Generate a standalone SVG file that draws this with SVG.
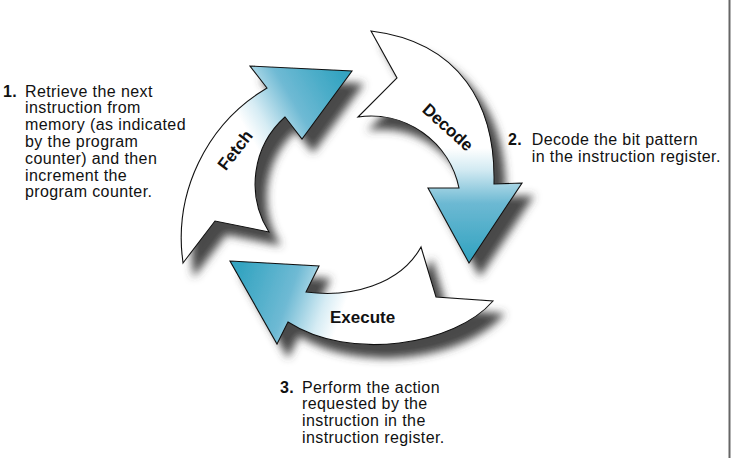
<svg xmlns="http://www.w3.org/2000/svg" width="731" height="458" viewBox="0 0 731 458">
<style>
.step{font-family:"Liberation Sans",Arial,sans-serif;font-size:16px;letter-spacing:0.4px;fill:#111}
.num{font-weight:bold}
.lbl{font-family:"Liberation Sans",Arial,sans-serif;font-size:17px;font-weight:bold;fill:#111}
.arrow{stroke:#111;stroke-width:1.1;stroke-linejoin:miter;filter:url(#shadow)}
</style>
<defs>
<filter id="shadow" x="-20%" y="-20%" width="150%" height="150%">
<feGaussianBlur in="SourceAlpha" stdDeviation="4"/>
<feOffset dx="11" dy="13" result="b"/>
<feFlood flood-color="#3e3e3e" flood-opacity="0.95"/>
<feComposite in2="b" operator="in"/>
<feMerge><feMergeNode/><feMergeNode in="SourceGraphic"/></feMerge>
</filter>
<linearGradient id="gFetch" gradientUnits="userSpaceOnUse" x1="245" y1="128" x2="340" y2="72">
<stop offset="0" stop-color="#ffffff"/>
<stop offset="0.18" stop-color="#d6ecf4"/>
<stop offset="0.5" stop-color="#6fbad4"/>
<stop offset="1" stop-color="#34a4c1"/>
</linearGradient>
<linearGradient id="gDecode" gradientUnits="userSpaceOnUse" x1="0" y1="148" x2="0" y2="258">
<stop offset="0" stop-color="#ffffff"/>
<stop offset="0.2" stop-color="#d2eaf2"/>
<stop offset="0.5" stop-color="#6db9d3"/>
<stop offset="1" stop-color="#34a4c1"/>
</linearGradient>
<linearGradient id="gExecute" gradientUnits="userSpaceOnUse" x1="345" y1="305" x2="240" y2="268">
<stop offset="0" stop-color="#ffffff"/>
<stop offset="0.18" stop-color="#d6ecf4"/>
<stop offset="0.5" stop-color="#6fbad4"/>
<stop offset="1" stop-color="#34a4c1"/>
</linearGradient>
</defs>
<rect width="731" height="458" fill="#ffffff"/>
<line x1="729.5" y1="0" x2="729.5" y2="458" stroke="#666" stroke-width="2"/>

<g id="connectors">
<g id="fetch">
<path class="arrow" fill="url(#gFetch)" d="M183,263 L215,221 L269,232 A90,90 0 0 1 285,117 L302,139 L352,71 L250,66 L267,88 A175,175 0 0 0 183,263 Z"/>
<text class="lbl" text-anchor="middle" transform="translate(235,150) rotate(-52)" x="0" y="6">Fetch</text>
</g>
<g id="decode">
<path class="arrow" fill="url(#gDecode)" d="M371,31 L397,78 L358,117 A90,90 0 0 1 459,188 L428,188 L469,263 L522,183 L494,184 C496,105 460,42 371,31 Z"/>
<text class="lbl" text-anchor="middle" transform="translate(448,127) rotate(42)" x="0" y="6">Decode</text>
</g>
<g id="execute">
<path class="arrow" fill="url(#gExecute)" d="M230,261 L319,266 L306,292 C350,298 400,285 421,247 L436,297 L493,301 C455,345 350,362 288,322 L277,344 Z"/>
<text class="lbl" x="330" y="323">Execute</text>
</g>
</g>

<g id="step1">
<text class="step"><tspan class="num" x="3" y="96.5">1.</tspan><tspan x="25" y="96.5">Retrieve the next</tspan>
<tspan x="25" y="113.3">instruction from</tspan>
<tspan x="25" y="130.1">memory (as indicated</tspan>
<tspan x="25" y="146.9">by the program</tspan>
<tspan x="25" y="163.7">counter) and then</tspan>
<tspan x="25" y="180.5">increment the</tspan>
<tspan x="25" y="197.3">program counter.</tspan></text>
</g>
<g id="step2">
<text class="step"><tspan class="num" x="508" y="145">2.</tspan><tspan x="531.7" y="145">Decode the bit pattern</tspan>
<tspan x="531.7" y="161.8">in the instruction register.</tspan></text>
</g>
<g id="step3">
<text class="step"><tspan class="num" x="280" y="392.5">3.</tspan><tspan x="302" y="392.5">Perform the action</tspan>
<tspan x="302" y="409.3">requested by the</tspan>
<tspan x="302" y="426.1">instruction in the</tspan>
<tspan x="302" y="442.9">instruction register.</tspan></text>
</g>
</svg>
